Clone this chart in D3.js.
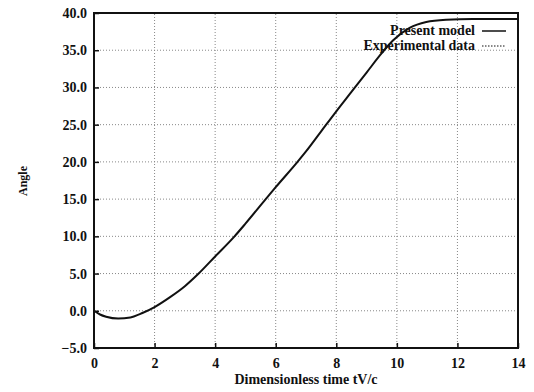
<!DOCTYPE html>
<html>
<head>
<meta charset="utf-8">
<script src="https://cdn.jsdelivr.net/npm/d3@7"></script>
<style>
  body { margin: 0; background: #fff; }
  svg { display: block; }
  .tick-label { font-family: "Liberation Serif", "DejaVu Serif", serif; font-weight: bold; font-size: 14px; fill: #111; }
  .title { font-family: "Liberation Serif", "DejaVu Serif", serif; font-weight: bold; fill: #111; }
  .grid line { stroke: #888; stroke-width: 1; stroke-dasharray: 1,2; }
</style>
</head>
<body>
<svg width="534" height="392"></svg>
<script>
// curve of the present model
const timeVals  = [0, 0.2, 0.4, 0.8, 1.2, 1.6, 2.0, 2.5, 3.0, 3.43, 4.0, 4.64, 5.0, 5.67, 6.0, 6.72, 7.0, 7.5, 8.0, 8.5, 9.0, 9.5, 9.87, 10.42, 10.97, 11.63, 12.5, 14];
const angleVals = [0, -0.5, -0.8, -1.05, -0.9, -0.3, 0.5, 1.8, 3.3, 4.9, 7.3, 10.0, 11.7, 15.0, 16.6, 20.0, 21.4, 24.1, 26.8, 29.4, 32.0, 34.6, 36.3, 38.0, 38.8, 39.1, 39.2, 39.2];

const xTicks = [0, 2, 4, 6, 8, 10, 12, 14];
const yTicks = [-5, 0, 5, 10, 15, 20, 25, 30, 35, 40];
const legendNames = ["Present model", "Experimental data"];

const width = 534, height = 392;
const margin = {top: 13, right: 16, bottom: 44, left: 94};

const svg = d3.select("svg");

const x = d3.scaleLinear().domain([0, 14]).range([margin.left, width - margin.right]);
const y = d3.scaleLinear().domain([-5, 40]).range([height - margin.bottom, margin.top]);

// dotted grid
const grid = svg.append("g").attr("class", "grid");
grid.selectAll(".gx")
  .data(xTicks.slice(1, -1))
  .enter().append("line")
  .attr("x1", d => x(d)).attr("x2", d => x(d))
  .attr("y1", y(-5)).attr("y2", y(40));
grid.selectAll(".gy")
  .data(yTicks.slice(1, -1))
  .enter().append("line")
  .attr("x1", x(0)).attr("x2", x(14))
  .attr("y1", d => y(d)).attr("y2", d => y(d));

// axes with inward ticks
const xAxis = svg.append("g")
  .attr("transform", `translate(0,${y(-5)})`)
  .call(d3.axisBottom(x).tickValues(xTicks).tickSizeInner(-5).tickSizeOuter(0).tickPadding(10).tickFormat(d3.format("d")));
const yAxis = svg.append("g")
  .attr("transform", `translate(${x(0)},0)`)
  .call(d3.axisLeft(y).tickValues(yTicks).tickSizeInner(-5).tickSizeOuter(0).tickPadding(7).tickFormat(d3.format(".1f")));

[xAxis, yAxis].forEach(a => {
  a.select(".domain").remove();
  a.selectAll(".tick line").attr("stroke", "#111").attr("stroke-width", 1.5);
  a.selectAll(".tick text").attr("class", "tick-label").attr("fill", null);
});

// frame
svg.append("rect")
  .attr("x", x(0)).attr("y", y(40))
  .attr("width", x(14) - x(0)).attr("height", y(-5) - y(40))
  .attr("fill", "none").attr("stroke", "#111").attr("stroke-width", 2);

// model curve
const line = d3.line()
  .x((d, i) => x(timeVals[i]))
  .y(d => y(d))
  .curve(d3.curveMonotoneX);

svg.append("path")
  .datum(angleVals)
  .attr("d", line)
  .attr("fill", "none")
  .attr("stroke", "#111")
  .attr("stroke-width", 2);

// legend
const legend = svg.append("g");
legendNames.forEach((name, i) => {
  const ly = 31 + i * 15;
  legend.append("text")
    .attr("class", "title")
    .attr("x", 475).attr("y", ly + 4)
    .attr("text-anchor", "end")
    .attr("font-size", 14)
    .text(name);
  legend.append("line")
    .attr("x1", 482).attr("x2", 506)
    .attr("y1", ly).attr("y2", ly)
    .attr("stroke", "#111")
    .attr("stroke-width", i === 0 ? 1.5 : 1)
    .attr("stroke-dasharray", i === 0 ? null : "1.5,1.5");
});

// axis titles
svg.append("text")
  .attr("class", "title")
  .attr("x", (x(0) + x(14)) / 2).attr("y", 384)
  .attr("text-anchor", "middle")
  .attr("font-size", 14)
  .text("Dimensionless time tV/c");

svg.append("text")
  .attr("class", "title")
  .attr("transform", "translate(27,181) rotate(-90)")
  .attr("text-anchor", "middle")
  .attr("font-size", 12)
  .text("Angle");
</script>
</body>
</html>
